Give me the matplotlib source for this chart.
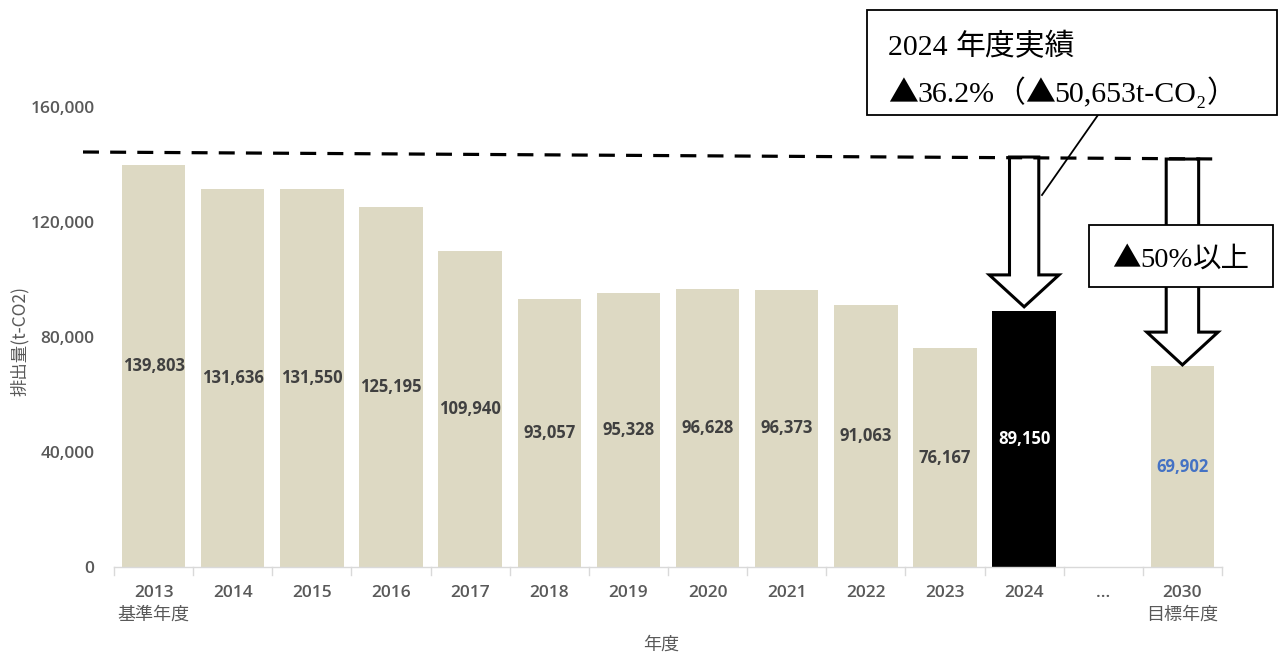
import matplotlib
matplotlib.use("Agg")
import matplotlib.pyplot as plt
from matplotlib.patches import Polygon, Rectangle
from matplotlib.lines import Line2D
from matplotlib.transforms import blended_transform_factory

plt.rcParams['font.family'] = ['Open Sans', 'Noto Sans CJK JP', 'DejaVu Sans']

# ---- data ----
years = ["2013", "2014", "2015", "2016", "2017", "2018", "2019", "2020",
         "2021", "2022", "2023", "2024", "…", "2030"]
sublabels = ["基準年度", "", "", "", "", "", "", "", "", "", "", "", "", "目標年度"]
values = [139803, 131636, 131550, 125195, 109940, 93057, 95328, 96628,
          96373, 91063, 76167, 89150, None, 69902]
yticks = [0, 40000, 80000, 120000, 160000]
ylabel = "排出量(t-CO2)"
xlabel = "年度"
callout_line1 = [("2024 ", "serif"), ("年度実績", "cjk")]
callout_line2 = [("▲", "cjk"), ("36.2%", "serif"), ("（", "cjk"), ("▲", "cjk"),
                 ("50,653t-CO₂", "serif"), ("）", "cjk")]
target_runs = [("▲", "cjk"), ("50%", "serif"), ("以上", "cjk")]

TAN = "#DDD9C3"
GRAY = "#595959"
LABEL = "#404040"
BLUE = "#4472C4"
FONTS = {"serif": ["Liberation Serif", "Noto Sans CJK JP"],
         "cjk": ["Noto Sans CJK JP", "DejaVu Sans"]}

fig = plt.figure(figsize=(12.85, 6.55), dpi=100)
W, H = 1285, 655
ax = fig.add_axes([114 / W, 1 - 567 / H, (1222 - 114) / W, (567 - 107) / H])

xs = list(range(len(years)))
for i, v in enumerate(values):
    if v is None:
        continue
    color = "black" if years[i] == "2024" else TAN
    ax.bar(i, v, width=0.8, color=color, zorder=2)
    if years[i] == "2024":
        tc = "white"
    elif years[i] == "2030":
        tc = BLUE
    else:
        tc = LABEL
    ax.text(i, v / 2, f"{v:,}", ha="center", va="center", fontsize=12,
            fontweight="bold", color=tc, zorder=3)

ax.set_xlim(-0.5, len(years) - 0.5)
ax.set_ylim(0, 160000)
ax.set_yticks(yticks)
ax.set_yticklabels([f"{t:,}" for t in yticks], color=GRAY, fontsize=12.5,
                   fontweight="semibold")
ax.tick_params(axis="y", length=0, pad=14)

ax.set_xticks(xs)
ax.set_xticklabels(years, color=GRAY, fontsize=12.5, fontweight="semibold")
ax.tick_params(axis="x", length=0, pad=13)
trans = blended_transform_factory(ax.transData, fig.transFigure)
for i, s in enumerate(sublabels):
    if s:
        ax.text(i, 1 - 615 / H, s, transform=trans, ha="center", va="center",
                color=GRAY, fontsize=13, family=["Noto Sans CJK JP"])
# boundary tick marks (Excel style)
for b in [i - 0.5 for i in range(len(years) + 1)]:
    ax.plot([b, b], [0, -1.0 / 460 * 160000 * 8], color="#D9D9D9", lw=1,
            clip_on=False, zorder=1)

for s in ["top", "right", "left"]:
    ax.spines[s].set_visible(False)
ax.spines["bottom"].set_color("#D9D9D9")
ax.spines["bottom"].set_linewidth(1)

fig.text(20 / W, 1 - 341 / H, ylabel, rotation=90, ha="center", va="center",
         color=GRAY, fontsize=12.5, family=["Noto Sans CJK JP"])
fig.text(661 / W, 1 - 645 / H, xlabel, ha="center", va="center",
         color=GRAY, fontsize=13, family=["Noto Sans CJK JP"])


def px(xp, yp):
    return xp / W, 1 - yp / H


# ---- dashed reference line ----
fig.add_artist(Line2D([83 / W, 1222 / W], [1 - 152 / H, 1 - 159 / H],
                      color="black", lw=2.3, linestyle=(0, (5, 3.5)), zorder=5))


# ---- down arrows ----
def down_arrow(xc, top, head_start, tip, shaft_half, head_half):
    pts = [(xc - shaft_half, top), (xc + shaft_half, top),
           (xc + shaft_half, head_start), (xc + head_half, head_start),
           (xc, tip), (xc - head_half, head_start), (xc - shaft_half, head_start)]
    ax.add_patch(Polygon(pts, closed=True, facecolor="white", edgecolor="black",
                         lw=2.2, zorder=6, joinstyle="miter", clip_on=False))


i24 = years.index("2024")
i30 = years.index("2030")
down_arrow(i24, 142600, 101600, 90500, 0.185, 0.44)
down_arrow(i30, 141900, 81700, 70300, 0.205, 0.45)

renderer = fig.canvas.get_renderer()


def runs_width(runs, size):
    total = 0
    for s, f in runs:
        t = fig.text(0, 0, s, fontsize=size, family=FONTS[f])
        total += t.get_window_extent(renderer).width
        t.remove()
    return total


def draw_runs(runs, x_px, y_px, size, align="left"):
    if align == "center":
        x_px -= runs_width(runs, size) / 2
    x = x_px
    for s, f in runs:
        t = fig.text(x / W, 1 - y_px / H, s, fontsize=size, family=FONTS[f],
                     ha="left", va="baseline", zorder=8)
        x += t.get_window_extent(renderer).width


# ---- target box ----
x0, y0 = px(1089, 287)
x1, y1 = px(1273, 225)
fig.add_artist(Rectangle((x0, y0), x1 - x0, y1 - y0, transform=fig.transFigure,
                         facecolor="white", edgecolor="black", lw=1.3, zorder=7))
draw_runs(target_runs, (1089 + 1273) / 2, 267, 20.5, align="center")

# ---- callout box ----
fig.add_artist(Line2D([1098 / W, 1042 / W], [1 - 115 / H, 1 - 195 / H],
                      color="black", lw=1.3, zorder=7))
bx0, by0 = px(867, 115)
bx1, by1 = px(1277, 10)
fig.add_artist(Rectangle((bx0, by0), bx1 - bx0, by1 - by0, transform=fig.transFigure,
                         facecolor="white", edgecolor="black", lw=1.3, zorder=7))
draw_runs(callout_line1, 888, 55, 21.5)
draw_runs(callout_line2, 888, 102, 21.5)

fig.savefig("out.png", dpi=100, facecolor="white")
